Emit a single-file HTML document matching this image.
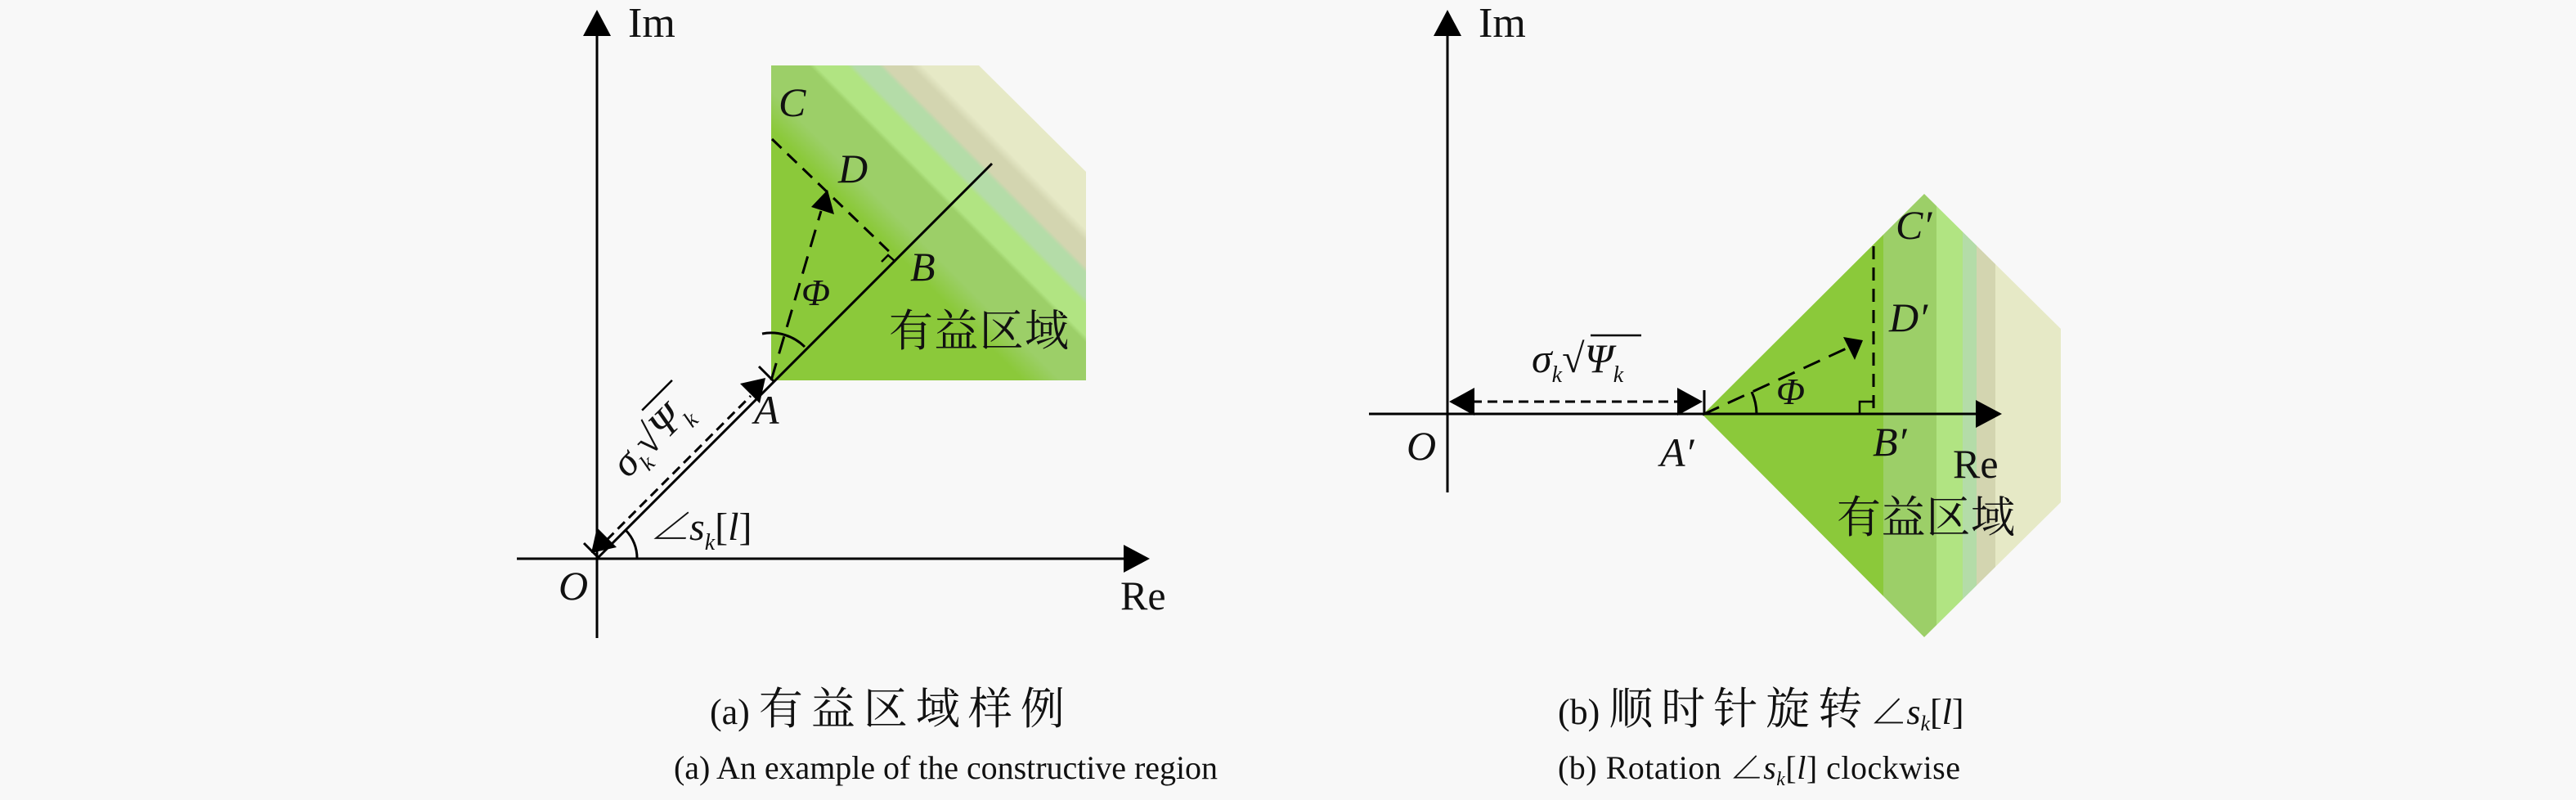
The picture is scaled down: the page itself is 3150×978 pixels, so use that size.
<!DOCTYPE html>
<html><head><meta charset="utf-8"><style>
html,body{margin:0;padding:0;background:#f8f8f8}
svg{display:block}
text{font-family:"Liberation Serif","Noto Serif CJK SC",serif;fill:#111}
.i{font-style:italic}
.cj{font-family:"Liberation Serif","Noto Serif CJK SC","Noto Sans CJK SC",serif}
</style></head><body>
<svg width="3150" height="978" viewBox="0 0 3150 978" xmlns="http://www.w3.org/2000/svg">
<defs>
<linearGradient id="ga" gradientUnits="userSpaceOnUse" x1="943" y1="465" x2="1328" y2="80">
<stop offset="0" stop-color="#8bc93a"/><stop offset="0.40" stop-color="#8bc93a"/>
<stop offset="0.46" stop-color="#9ccf68"/><stop offset="0.56" stop-color="#9ccf68"/>
<stop offset="0.57" stop-color="#b1e482"/><stop offset="0.62" stop-color="#b1e482"/>
<stop offset="0.63" stop-color="#b4dca8"/><stop offset="0.67" stop-color="#b4dca8"/>
<stop offset="0.68" stop-color="#d3d5b0"/><stop offset="0.72" stop-color="#d3d5b0"/>
<stop offset="0.74" stop-color="#e6e9c6"/><stop offset="1" stop-color="#e6e9c6"/>
</linearGradient>
<clipPath id="cd"><polygon points="2082,507 2353,237 2520,402 2520,614 2353,779"/></clipPath>
</defs>
<rect width="3150" height="978" fill="#f8f8f8"/>

<!-- ========== Panel (a) ========== -->
<polygon points="943,80 1197,80 1328,210 1328,465 943,465" fill="url(#ga)"/>
<line x1="730" y1="40" x2="730" y2="780" stroke="#000" stroke-width="3"/>
<polygon points="730,12 713,44 747,44" fill="#000"/>
<line x1="632" y1="683" x2="1378" y2="683" stroke="#000" stroke-width="3"/>
<polygon points="1406,683 1374,666 1374,700" fill="#000"/>
<line x1="730" y1="683" x2="1213" y2="200" stroke="#000" stroke-width="3"/>
<line x1="742" y1="660" x2="918" y2="484" stroke="#000" stroke-width="3" stroke-dasharray="12,7"/>
<polygon points="723,676 730,645 754,669" fill="#000"/>
<polygon points="936,462 905,469 929,493" fill="#000"/>
<line x1="928" y1="448" x2="946" y2="466" stroke="#000" stroke-width="3"/>
<line x1="714" y1="664" x2="732" y2="682" stroke="#000" stroke-width="3"/>
<path d="M779,683 A49,49 0 0 0 765,648" fill="none" stroke="#000" stroke-width="3"/>
<line x1="944" y1="170" x2="1092" y2="312" stroke="#000" stroke-width="3" stroke-dasharray="16,10"/>
<polyline points="1078,320 1086,312 1095,320" fill="none" stroke="#000" stroke-width="2.5"/>
<line x1="943" y1="465" x2="1004" y2="258" stroke="#000" stroke-width="3" stroke-dasharray="22,12"/>
<polygon points="1012,232 992,253 1020,262" fill="#000"/>
<path d="M984,424 A58,58 0 0 0 932,408" fill="none" stroke="#000" stroke-width="3"/>
<text x="768" y="45" font-size="52">Im</text>
<text x="1370" y="745" font-size="50">Re</text>
<text x="683" y="733" font-size="50" class="i">O</text>
<text x="922" y="518" font-size="50" class="i">A</text>
<text x="1113" y="343" font-size="50" class="i">B</text>
<text x="952" y="142" font-size="50" class="i">C</text>
<text x="1025" y="223" font-size="50" class="i">D</text>
<text x="980" y="373" font-size="46" class="i">Φ</text>
<text x="1087" y="423" font-size="54" class="cj" textLength="220">有益区域</text>
<text x="795" y="660" font-size="48"><tspan class="i">∠</tspan><tspan class="i">s</tspan><tspan class="i" font-size="28" dy="12">k</tspan><tspan dy="-12">[</tspan><tspan class="i">l</tspan><tspan>]</tspan></text>
<g transform="translate(812,520) rotate(-45)">
<text x="-78" y="15" font-size="50"><tspan class="i">σ</tspan><tspan class="i" font-size="28" dy="12">k</tspan><tspan dy="-12">√</tspan><tspan class="i">Ψ</tspan><tspan class="i" font-size="28" dy="12">k</tspan></text>
<line x1="-6" y1="-32" x2="46" y2="-32" stroke="#000" stroke-width="2.5"/>
</g>

<!-- ========== Panel (b) ========== -->
<g clip-path="url(#cd)">
<rect x="2082" y="200" width="221" height="600" fill="#8bc93a"/>
<rect x="2303" y="200" width="65" height="600" fill="#9ccf68"/>
<rect x="2368" y="200" width="32" height="600" fill="#b1e482"/>
<rect x="2400" y="200" width="17" height="600" fill="#b4dca8"/>
<rect x="2417" y="200" width="23" height="600" fill="#d3d5b0"/>
<rect x="2440" y="200" width="80" height="600" fill="#e6e9c6"/>
</g>
<line x1="1770" y1="40" x2="1770" y2="602" stroke="#000" stroke-width="3"/>
<polygon points="1770,12 1753,44 1787,44" fill="#000"/>
<line x1="1674" y1="506" x2="2420" y2="506" stroke="#000" stroke-width="3"/>
<polygon points="2448,506 2416,489 2416,523" fill="#000"/>
<line x1="1800" y1="491" x2="2055" y2="491" stroke="#000" stroke-width="3" stroke-dasharray="12,7"/>
<polygon points="1772,491 1803,474 1803,508" fill="#000"/>
<polygon points="2082,491 2051,474 2051,508" fill="#000"/>
<line x1="2084" y1="477" x2="2084" y2="506" stroke="#000" stroke-width="3"/>
<line x1="2082" y1="507" x2="2262" y2="424" stroke="#000" stroke-width="3" stroke-dasharray="22,12"/>
<polygon points="2278,416 2254,412 2268,440" fill="#000"/>
<line x1="2291" y1="301" x2="2291" y2="506" stroke="#000" stroke-width="3" stroke-dasharray="16,10"/>
<polyline points="2274,506 2274,491 2291,491" fill="none" stroke="#000" stroke-width="2.5"/>
<path d="M2148,506 A66,66 0 0 0 2142,479" fill="none" stroke="#000" stroke-width="3"/>
<text x="1808" y="45" font-size="52">Im</text>
<text x="2388" y="584" font-size="50">Re</text>
<text x="1720" y="562" font-size="50" class="i">O</text>
<text x="2030" y="570" font-size="50" class="i">A′</text>
<text x="2290" y="557" font-size="50" class="i">B′</text>
<text x="2318" y="292" font-size="50" class="i">C′</text>
<text x="2310" y="405" font-size="50" class="i">D′</text>
<text x="2172" y="494" font-size="46" class="i">Φ</text>
<text x="2246" y="651" font-size="54" class="cj" textLength="218">有益区域</text>
<text x="1873" y="455" font-size="50"><tspan class="i">σ</tspan><tspan class="i" font-size="28" dy="12">k</tspan><tspan dy="-12">√</tspan><tspan class="i">Ψ</tspan><tspan class="i" font-size="28" dy="12">k</tspan></text>
<line x1="1945" y1="410" x2="2007" y2="410" stroke="#000" stroke-width="2.5"/>

<!-- captions -->
<text x="868" y="885" font-size="44" class="cj">(a) <tspan font-size="54" letter-spacing="10">有益区域样例</tspan></text>
<text x="824" y="952" font-size="40" textLength="665">(a) An example of the constructive region</text>
<text x="1905" y="885" font-size="44" class="cj">(b) <tspan font-size="54" letter-spacing="10">顺时针旋转</tspan>∠<tspan class="i">s</tspan><tspan class="i" font-size="26" dy="8">k</tspan><tspan dy="-8">[</tspan><tspan class="i">l</tspan>]</text>
<text x="1905" y="952" font-size="40" textLength="492">(b) Rotation ∠<tspan class="i">s</tspan><tspan class="i" font-size="24" dy="8">k</tspan><tspan dy="-8">[</tspan><tspan class="i">l</tspan>] clockwise</text>
</svg>
</body></html>
